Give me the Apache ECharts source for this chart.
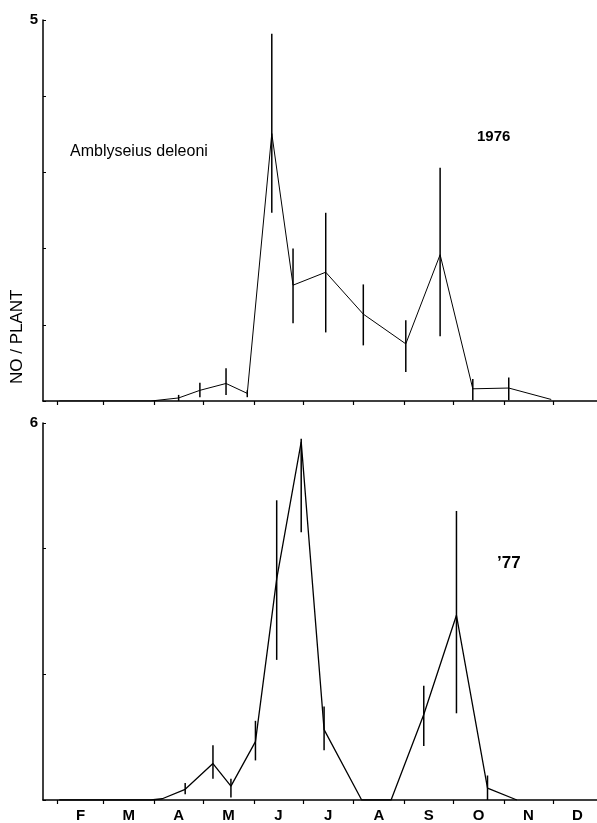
<!DOCTYPE html>
<html>
<head>
<meta charset="utf-8">
<title>Amblyseius deleoni</title>
<script src="https://cdn.jsdelivr.net/npm/echarts@6/dist/echarts.min.js"></script>
<style>
  html, body { margin: 0; padding: 0; background: #fff; }
  #chart { width: 597px; height: 823px; }
</style>
</head>
<body>
<div id="chart"></div>
<script>
// x values are day of year
var monthStarts = [31, 59, 90, 120, 151, 181, 212, 243, 273, 304, 334]
var monthMids = [45, 74.5, 105, 135.5, 166, 196.5, 227.5, 258, 288.5, 319, 349]
var monthLabels = ['F', 'M', 'A', 'M', 'J', 'J', 'A', 'S', 'O', 'N', 'D']

// 1976
var days1976 = [32, 88, 105, 118, 134, 147, 162, 175, 195, 218, 244, 265, 285, 307, 333]
var mean1976 = [0, 0, 0.04, 0.14, 0.23, 0.1, 3.51, 1.52, 1.69, 1.14, 0.75, 1.92, 0.16, 0.17, 0.02]
var errDays1976 = [105, 118, 134, 147, 162, 175, 195, 218, 244, 265, 285, 307]
var errLow1976 = [0, 0.05, 0.08, 0.05, 2.47, 1.02, 0.9, 0.73, 0.38, 0.85, 0.01, 0.01]
var errHigh1976 = [0.08, 0.24, 0.43, 0.14, 4.82, 2.0, 2.47, 1.53, 1.06, 3.06, 0.29, 0.31]

// 1977
var days1977 = [32, 88, 95, 109, 126, 137, 152, 165, 180, 194, 217, 235, 255, 275, 294, 312]
var mean1977 = [0, 0, 0.02, 0.17, 0.58, 0.22, 0.93, 3.52, 5.7, 1.12, 0, 0, 1.36, 2.94, 0.19, 0]
var errDays1977 = [109, 126, 137, 152, 165, 180, 194, 255, 275, 294]
var errLow1977 = [0.09, 0.34, 0.04, 0.63, 2.23, 4.26, 0.79, 0.86, 1.38, 0]
var errHigh1977 = [0.27, 0.87, 0.34, 1.26, 4.77, 5.75, 1.49, 1.82, 4.6, 0.39]

var chart = echarts.init(document.getElementById('chart'))

var narrow = '"Liberation Sans Narrow", "Liberation Sans", Arial, sans-serif'

function zip(a, b) {
  return a.map(function (v, i) { return [v, b[i]] })
}
function zip3(a, b, c) {
  return a.map(function (v, i) { return [v, b[i], c[i]] })
}

// vertical range bar, no caps
function renderErr(params, api) {
  var x = api.value(0)
  var p1 = api.coord([x, api.value(1)])
  var p2 = api.coord([x, api.value(2)])
  return {
    type: 'line',
    shape: { x1: p1[0], y1: p1[1], x2: p2[0], y2: p2[1] },
    style: { stroke: '#000', lineWidth: 1.5 }
  }
}

function xAxisOf(idx, showLabels) {
  return {
    type: 'value',
    gridIndex: idx,
    min: 22,
    max: 361,
    splitLine: { show: false },
    axisLine: { onZero: false, lineStyle: { color: '#000', width: 1.5 } },
    axisTick: {
      show: true,
      customValues: monthStarts,
      length: 4,
      lineStyle: { color: '#000', width: 1.2 }
    },
    axisLabel: {
      show: showLabels,
      customValues: monthMids,
      margin: 8,
      color: '#000',
      fontFamily: narrow,
      fontWeight: 'bold',
      fontSize: 15,
      formatter: function (v) {
        var best = 0
        for (var i = 0; i < monthMids.length; i++) {
          if (Math.abs(monthMids[i] - v) < Math.abs(monthMids[best] - v)) best = i
        }
        return monthLabels[best]
      }
    }
  }
}

function yAxisOf(idx, max, interval) {
  return {
    type: 'value',
    gridIndex: idx,
    min: 0,
    max: max,
    interval: interval,
    splitLine: { show: false },
    axisLine: { show: true, lineStyle: { color: '#000', width: 1.5 } },
    axisTick: { show: true, inside: true, length: 3, lineStyle: { color: '#000' } },
    axisLabel: {
      color: '#000',
      fontFamily: narrow,
      fontWeight: 'bold',
      fontSize: 15,
      margin: 5,
      formatter: function (v) { return v === max ? String(v) : '' }
    }
  }
}

chart.setOption({
  animation: false,
  backgroundColor: '#fff',
  grid: [
    { left: 43, top: 20, right: 0, height: 381 },
    { left: 43, top: 423, right: 0, height: 380 }
  ],
  xAxis: [xAxisOf(0, false), xAxisOf(1, true)],
  yAxis: [yAxisOf(0, 5, 1), yAxisOf(1, 6, 2)],
  graphic: [
    {
      type: 'text', left: 70, top: 144,
      style: { text: 'Amblyseius deleoni', fill: '#000', font: '16px ' + narrow }
    },
    {
      type: 'text', left: 477, top: 129,
      style: { text: '1976', fill: '#000', font: 'bold 15px ' + narrow }
    },
    {
      type: 'text', left: 497, top: 555,
      style: { text: '\u201977', fill: '#000', font: 'bold 17px ' + narrow }
    },
    {
      type: 'text', x: 9, y: 384, rotation: Math.PI / 2,
      style: { text: 'NO / PLANT', fill: '#000', font: '500 17px ' + narrow }
    }
  ],
  series: [
    {
      name: '1976',
      type: 'line',
      xAxisIndex: 0,
      yAxisIndex: 0,
      data: zip(days1976, mean1976),
      symbol: 'none',
      lineStyle: { color: '#000', width: 1 }
    },
    {
      name: '1976 range',
      type: 'custom',
      xAxisIndex: 0,
      yAxisIndex: 0,
      data: zip3(errDays1976, errLow1976, errHigh1976),
      renderItem: renderErr
    },
    {
      name: '1977',
      type: 'line',
      xAxisIndex: 1,
      yAxisIndex: 1,
      data: zip(days1977, mean1977),
      symbol: 'none',
      lineStyle: { color: '#000', width: 1.3 }
    },
    {
      name: '1977 range',
      type: 'custom',
      xAxisIndex: 1,
      yAxisIndex: 1,
      data: zip3(errDays1977, errLow1977, errHigh1977),
      renderItem: renderErr
    }
  ]
})
</script>
</body>
</html>
